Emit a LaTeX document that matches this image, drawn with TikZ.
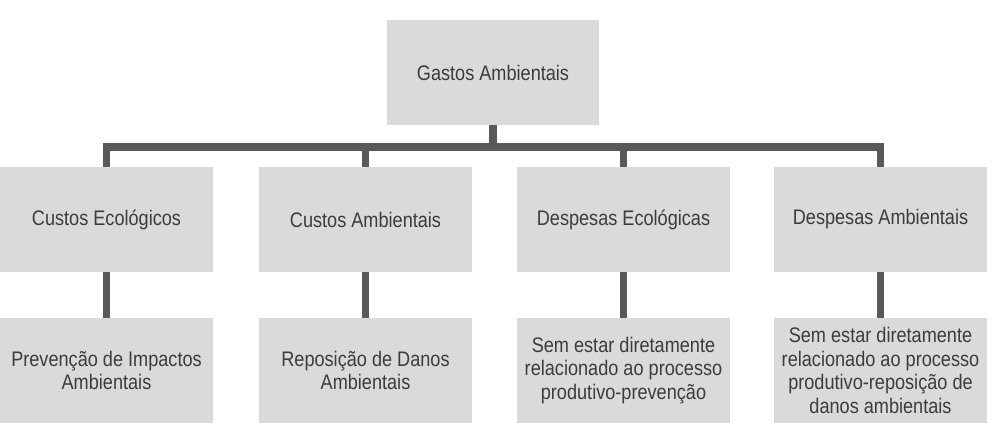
\documentclass[tikz,border=0pt]{standalone}
\usepackage{fontspec}
\setmainfont{Liberation Sans}[FakeStretch=0.86]
\usepackage{tikz}
\usetikzlibrary{positioning,calc}
\definecolor{cBox}{HTML}{D9DADB}
\definecolor{cLine}{HTML}{58595B}
\definecolor{cText}{HTML}{3C3C3D}

\tikzset{
  box/.style={fill=cBox,draw=none,minimum width=4.26cm,minimum height=2.1cm,
    inner sep=2pt,align=center,text=cText,font=\fontsize{12}{13.6}\selectfont},
  link/.style={draw=cLine,line width=4.3pt,line join=miter}
}

\begin{document}
\begin{tikzpicture}[x=0.02cm,y=-0.02cm]
  \useasboundingbox (0,0) rectangle (994,425);
  % top level
  \node[box] (gastos) at (493,72.5) {Gastos Ambientais};
  % second level
  \node[box] (cEco)  at (106.5,219.5) {Custos Ecológicos};
  \node[box] (cAmb)  at (365.5,219.5) {Custos Ambientais};
  \node[box] (dEco)  at (623.5,219.5) {Despesas Ecológicas};
  \node[box] (dAmb)  at (880.5,219.5) {Despesas Ambientais};
  % third level
  \node[box] (prev)  at (106.5,370.5) {Prevenção de Impactos\\Ambientais};
  \node[box] (repo)  at (365.5,370.5) {Reposição de Danos\\Ambientais};
  \node[box] (semP)  at (623.5,370.5) {Sem estar diretamente\\relacionado ao processo\\produtivo-prevenção};
  \node[box] (semR)  at (880.5,370.5) {Sem estar diretamente\\relacionado ao processo\\produtivo-reposição de\\danos ambientais};
  % connectors
  \coordinate (bus) at (0,147);
  \draw[link] (gastos.south) -- (gastos.south |- bus);
  \draw[link] (cEco.north) -- (cEco.north |- bus) -- (dAmb.north |- bus) -- (dAmb.north);
  \draw[link] (cAmb.north) -- (cAmb.north |- bus);
  \draw[link] (dEco.north) -- (dEco.north |- bus);
  \foreach \a/\b in {cEco/prev,cAmb/repo,dEco/semP,dAmb/semR}
    \draw[link] (\a.south) -- (\b.north);
\end{tikzpicture}
\end{document}
